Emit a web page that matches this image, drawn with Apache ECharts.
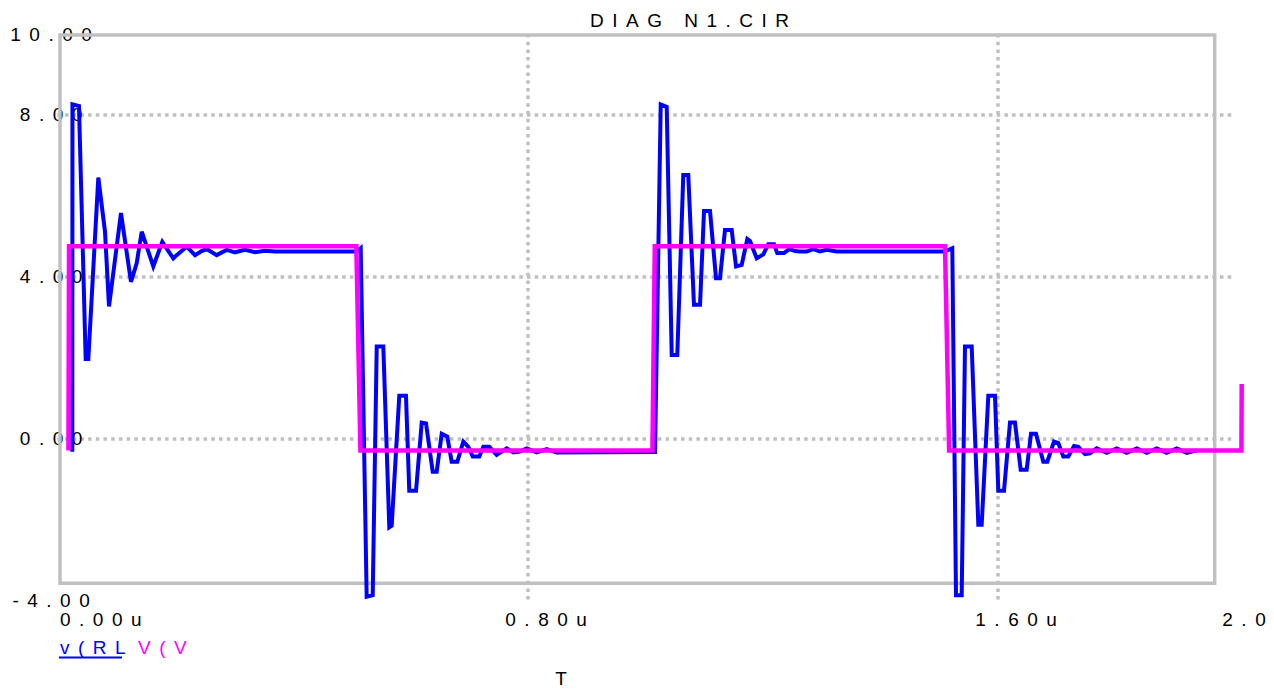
<!DOCTYPE html>
<html>
<head>
<meta charset="utf-8">
<title>DIAG N1.CIR</title>
<script src="https://cdn.jsdelivr.net/npm/echarts@6/dist/echarts.min.js"></script>
<style>
  html, body { margin: 0; padding: 0; background: #ffffff; }
  #chart { width: 1274px; height: 689px; }
  /* probe-style wide character pitch */
  #chart text { letter-spacing: 8.5px; }
</style>
</head>
<body>
<div id="chart"></div>
<script>
// ---- texts ----
const titleText = 'DIAG N1.CIR';
const xAxisName = 'T';
const seriesNames = ['v(RL', 'V(V'];

// ---- axis ticks (time in microseconds, volts) ----
const xTickValues = [0, 0.8, 1.6, 2.0];
const xTickLabels = ['0.00u', '0.80u', '1.60u', '2.0'];
const yMin = -4, yMax = 10, yStep = 4;
const xMin = 0, xMax = 2, xStep = 0.8;
// traces run slightly past the last time tick
const xTraceMax = 2.05;

// ---- v(RL): load voltage with ringing (time us, volts) ----
const rlTime = [
  0.0255, 0.0258, 0.0369, 0.0483, 0.0528, 0.0698, 0.0812, 0.0880, 0.1084, 0.1254,
  0.1351, 0.1437, 0.1634, 0.1787, 0.1974, 0.2032, 0.2203, 0.2344, 0.2458, 0.2543,
  0.2713, 0.2883, 0.3025, 0.3195, 0.3366, 0.3536, 0.3706, 0.5100, 0.5164, 0.5266,
  0.5369, 0.5437, 0.5549, 0.5651, 0.5692, 0.5821, 0.5935, 0.5991, 0.6106, 0.6203,
  0.6276, 0.6390, 0.6458, 0.6543, 0.6638, 0.6713, 0.6809, 0.6911, 0.6996, 0.7071,
  0.7183, 0.7251, 0.7353, 0.7479, 0.7564, 0.7649, 0.7762, 0.7876, 0.7990, 0.8160,
  0.8330, 0.8500, 1.0130, 1.0174, 1.0271, 1.0373, 1.0458, 1.0553, 1.0655, 1.0740,
  1.0837, 1.0940, 1.1008, 1.1110, 1.1212, 1.1280, 1.1365, 1.1479, 1.1553, 1.1649,
  1.1745, 1.1791, 1.1905, 1.2017, 1.2102, 1.2199, 1.2255, 1.2369, 1.2460, 1.2557,
  1.2630, 1.2756, 1.2868, 1.2982, 1.3096, 1.3266, 1.5106, 1.5234, 1.5297, 1.5394,
  1.5450, 1.5564, 1.5677, 1.5734, 1.5847, 1.5961, 1.6017, 1.6114, 1.6216, 1.6301,
  1.6398, 1.6500, 1.6574, 1.6659, 1.6783, 1.6851, 1.6965, 1.7038, 1.7123, 1.7209,
  1.7306, 1.7379, 1.7493, 1.7578, 1.7692, 1.7862, 1.8033, 1.8203, 1.8374, 1.8544,
  1.8714, 1.8884, 1.9054, 1.9225, 1.9395
];
const rlVolt = [
  -0.33, 8.26, 8.22, 1.96, 1.96, 6.45, 5.11, 3.26, 5.57, 3.87,
   4.33, 5.11, 4.25, 4.86, 4.45, 4.53, 4.74, 4.53, 4.63, 4.68,
   4.53, 4.66, 4.60, 4.66, 4.60, 4.64, 4.62, 4.62, 4.70, -3.92,
  -3.88, 2.27, 2.27, -2.20, -2.16, 1.05, 1.05, -1.30, -1.30, 0.39,
   0.37, -0.83, -0.83, 0.11, 0.04, -0.58, -0.58, -0.08, -0.21, -0.45,
  -0.45, -0.21, -0.21, -0.41, -0.33, -0.25, -0.35, -0.33, -0.25, -0.35,
  -0.27, -0.35, -0.34, -0.34, 8.26, 8.20, 2.06, 2.06, 6.51, 6.51,
   3.30, 3.30, 5.62, 5.62, 3.96, 3.96, 5.15, 5.15, 4.25, 4.29,
   4.93, 4.88, 4.45, 4.55, 4.80, 4.80, 4.58, 4.58, 4.68, 4.63,
   4.62, 4.62, 4.68, 4.62, 4.66, 4.62, 4.62, 4.70, -3.88, -3.88,
   2.27, 2.27, -2.14, -2.14, 1.05, 1.05, -1.30, -1.30, 0.39, 0.39,
  -0.78, -0.78, 0.11, 0.11, -0.58, -0.58, -0.08, -0.12, -0.45, -0.45,
  -0.19, -0.21, -0.39, -0.37, -0.25, -0.36, -0.25, -0.36, -0.25, -0.36,
  -0.25, -0.36, -0.25, -0.36, -0.30
];

// ---- V(V): pulse source (time us, volts) ----
const srcTime = [0.0190, 0.0200, 0.5090, 0.5160, 1.0130, 1.0170, 1.5110, 1.5180, 2.0155, 2.0160];
const srcVolt = [-0.30, 4.75, 4.75, -0.30, -0.30, 4.75, 4.75, -0.30, -0.30, 1.34];

// ---- style ----
const FONT = '"Liberation Sans", Arial, Helvetica, sans-serif';
const FONT_SIZE = 19;
const GRID_COLOR = '#c0c0c0';
const BLUE = '#0000ff';
const MAGENTA = '#ff00ff';
const FRAME = { left: 60, top: 35, right: 1214.7, bottom: 583.3 };
const PLOT = { left: 57.3, top: 34, width: 1175, bottom: 89 };

const pairs = (xs, ys) => xs.map((x, i) => [x, ys[i]]);

const chart = echarts.init(document.getElementById('chart'), null, { renderer: 'svg' });

const dotted = { color: GRID_COLOR, width: 3.5, type: [3.5, 4.2], cap: 'butt' };
const hidden = { axisLine: { show: false }, axisTick: { show: false }, axisLabel: { show: false }, splitLine: { show: false } };

// grid 0 carries the grid lines and value labels; grid 1 shares its scale
// but reaches a little further right so the traces can run past 2.0u
const traceWidth = PLOT.width * (xTraceMax - xMin) / (xMax - xMin);

chart.setOption({
  animation: false,
  backgroundColor: '#ffffff',
  grid: [
    { left: PLOT.left, width: PLOT.width, top: PLOT.top, bottom: PLOT.bottom, containLabel: false },
    { left: PLOT.left, width: traceWidth, top: PLOT.top, bottom: PLOT.bottom, containLabel: false }
  ],
  xAxis: [
    {
      type: 'value', gridIndex: 0, min: xMin, max: xMax, interval: xStep,
      axisLine: { show: false }, axisTick: { show: false }, axisLabel: { show: false },
      splitLine: { show: true, showMinLine: false, showMaxLine: false, lineStyle: dotted }
    },
    Object.assign({ type: 'value', gridIndex: 1, min: xMin, max: xTraceMax }, hidden)
  ],
  yAxis: [
    {
      type: 'value', gridIndex: 0, min: yMin, max: yMax, interval: yStep,
      axisLine: { show: false }, axisTick: { show: false },
      axisLabel: {
        show: true, formatter: v => v.toFixed(2), color: '#000000',
        fontFamily: FONT, fontSize: FONT_SIZE, align: 'center', margin: 2
      },
      splitLine: { show: true, showMinLine: false, showMaxLine: false, lineStyle: dotted }
    },
    Object.assign({ type: 'value', gridIndex: 1, min: yMin, max: yMax }, hidden)
  ],
  series: [
    {
      name: seriesNames[0], type: 'line', xAxisIndex: 1, yAxisIndex: 1, data: pairs(rlTime, rlVolt),
      symbol: 'none', showSymbol: false, clip: false, z: 3,
      lineStyle: { color: BLUE, width: 4, join: 'miter', miterLimit: 4 }
    },
    {
      name: seriesNames[1], type: 'line', xAxisIndex: 1, yAxisIndex: 1, data: pairs(srcTime, srcVolt),
      symbol: 'none', showSymbol: false, clip: false, z: 4,
      lineStyle: { color: MAGENTA, width: 4.5, join: 'miter' }
    }
  ]
});

// ---- frame, tick labels, legend, title ----
const px = v => chart.convertToPixel({ xAxisIndex: 0 }, v);
const py = v => chart.convertToPixel({ yAxisIndex: 0 }, v);
const labelY = py(yMin) + 19;

const textEl = (text, x, y, color, align) => ({
  type: 'text', x: x, y: y, z: 10, silent: true,
  style: { text: text, fill: color, font: FONT_SIZE + 'px ' + FONT, align: align || 'left', verticalAlign: 'middle' }
});

const graphics = [
  {
    type: 'rect', z: 1, silent: true,
    shape: { x: FRAME.left, y: FRAME.top, width: FRAME.right - FRAME.left, height: FRAME.bottom - FRAME.top },
    style: { fill: 'none', stroke: GRID_COLOR, lineWidth: 3.5 }
  }
];

xTickValues.forEach((v, i) => {
  let x = px(v) - 22;
  if (i === 0) x = Math.max(x, FRAME.left);
  if (i === xTickValues.length - 1) x = px(v) - 10;
  graphics.push(textEl(xTickLabels[i], x, labelY, '#000000'));
});

graphics.push(textEl(titleText, 590, 20, '#000000'));
graphics.push(textEl(xAxisName, px(xTickValues[1]) + 38, 678, '#000000', 'center'));

// legend: trace names in trace colours, first one underlined
graphics.push(textEl(seriesNames[0], FRAME.left, 647, BLUE));
graphics.push({
  type: 'line', z: 10, silent: true,
  shape: { x1: FRAME.left - 1, y1: 657.5, x2: FRAME.left + 62, y2: 657.5 },
  style: { stroke: BLUE, lineWidth: 2 }
});
graphics.push(textEl(seriesNames[1], FRAME.left + 78, 647, MAGENTA));

chart.setOption({ graphic: graphics });
</script>
</body>
</html>
